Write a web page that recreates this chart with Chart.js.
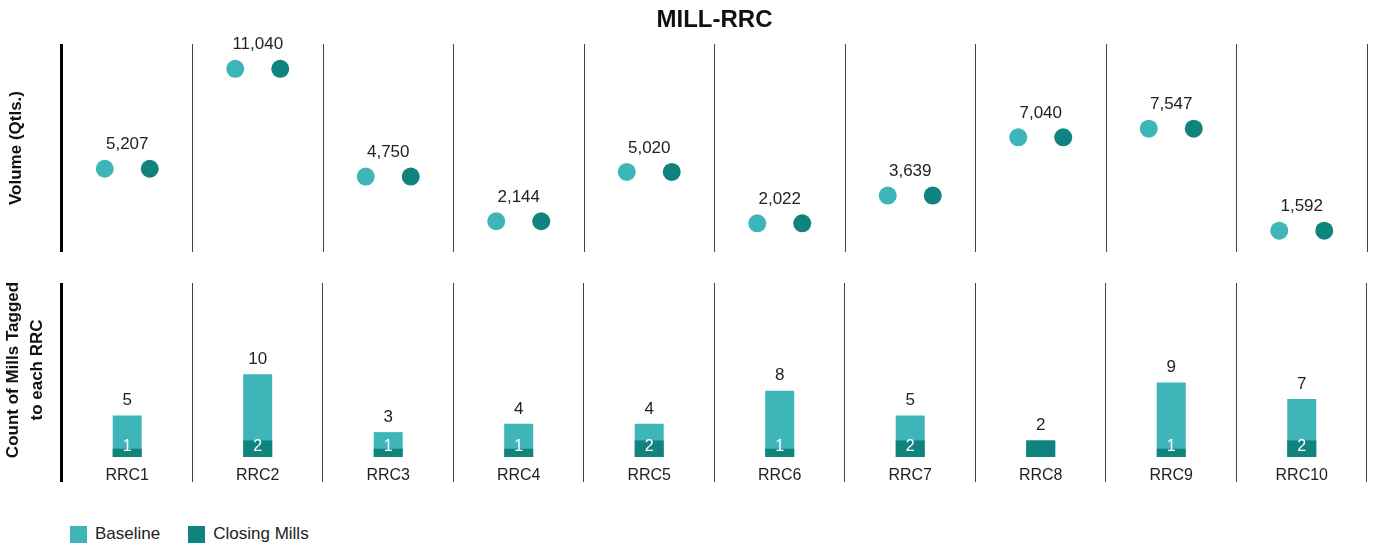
<!DOCTYPE html>
<html lang="en">
<head>
  <meta charset="UTF-8">
  <title>MILL-RRC</title>
  <script src="https://cdn.jsdelivr.net/npm/chart.js"></script>
  <style>
    body { margin: 0; background: #fff; overflow: hidden; font-family: "Liberation Sans", Arial, sans-serif; }
    #wrap { position: relative; width: 1373px; height: 544px; }
    #topBox { position: absolute; left: 0; top: 0; width: 1373px; height: 260px; }
    #bottomBox { position: absolute; left: 0; top: 270px; width: 1373px; height: 230px; }
    #legend { position: absolute; left: 70px; top: 524px; display: flex; align-items: center; font-size: 17px; color: #222; }
    #legend span.box { display: inline-block; width: 17px; height: 17px; margin-right: 8px; }
    #legend span.item { display: flex; align-items: center; margin-right: 28px; }
  </style>
</head>
<body>
  <div id="wrap">
    <div id="topBox"><canvas id="topChart"></canvas></div>
    <div id="bottomBox"><canvas id="bottomChart"></canvas></div>
    <div id="legend">
      <span class="item"><span class="box" style="background:#3db5b9"></span>Baseline</span>
      <span class="item"><span class="box" style="background:#11837f"></span>Closing Mills</span>
    </div>
  </div>

  <script>
    // data
    const categories = ['RRC1', 'RRC2', 'RRC3', 'RRC4', 'RRC5', 'RRC6', 'RRC7', 'RRC8', 'RRC9', 'RRC10'];
    const volumeBaseline = [5207, 11040, 4750, 2144, 5020, 2022, 3639, 7040, 7547, 1592];
    const volumeClosing = [5207, 11040, 4750, 2144, 5020, 2022, 3639, 7040, 7547, 1592];
    const millsBaseline = [5, 10, 3, 4, 4, 8, 5, 2, 9, 7];
    const millsClosing = [1, 2, 1, 1, 2, 1, 2, 2, 1, 2];

    const LIGHT = '#3db5b9';
    const DARK = '#11837f';
    Chart.defaults.font.family = '"Liberation Sans", Arial, sans-serif';
    Chart.defaults.color = '#222';

    const gridWidth = ctx => ctx.index === 0 ? 3 : 1;
    const gridColor = ctx => ctx.index === 0 ? '#000' : '#444';

    // volume labels above each pair of dots
    const volumeLabels = {
      id: 'volumeLabels',
      afterDatasetsDraw(chart) {
        const ctx = chart.ctx;
        const xs = chart.scales.x;
        const pts = chart.getDatasetMeta(0).data;
        ctx.save();
        ctx.font = '17px "Liberation Sans", Arial, sans-serif';
        ctx.fillStyle = '#222';
        ctx.textAlign = 'center';
        ctx.textBaseline = 'middle';
        volumeBaseline.forEach((v, i) => {
          ctx.fillText(v.toLocaleString('en-US'), xs.getPixelForValue(i + 0.5), pts[i].y - 24);
        });
        ctx.restore();
      }
    };

    const dotShift = 0.1724;
    new Chart(document.getElementById('topChart'), {
      type: 'scatter',
      data: {
        datasets: [{
          label: 'Baseline',
          data: volumeBaseline.map((v, i) => ({x: i + 0.5 - dotShift, y: v})),
          backgroundColor: LIGHT,
          borderWidth: 0,
          pointRadius: 9
        }, {
          label: 'Closing Mills',
          data: volumeClosing.map((v, i) => ({x: i + 0.5 + dotShift, y: v})),
          backgroundColor: DARK,
          borderWidth: 0,
          pointRadius: 9
        }]
      },
      options: {
        responsive: true,
        maintainAspectRatio: false,
        animation: false,
        layout: { autoPadding: false, padding: { left: 0, right: 6, top: 0, bottom: 8 } },
        scales: {
          x: {
            type: 'linear', min: 0, max: 10,
            ticks: { stepSize: 1, display: false },
            grid: { color: gridColor, lineWidth: gridWidth, drawTicks: false },
            border: { display: false }
          },
          y: {
            min: 350, max: 12485,
            ticks: { display: false },
            grid: { display: false, drawTicks: false },
            border: { display: false },
            title: {
              display: true, text: 'Volume (Qtls.)',
              font: { size: 17, weight: 'bold' },
              color: '#111',
              padding: { top: 6.3, bottom: 35.3 }
            }
          }
        },
        plugins: {
          legend: { display: false },
          tooltip: { enabled: false },
          title: {
            display: true, text: 'MILL-RRC', fullSize: false,
            font: { size: 24, weight: 'bold' }, color: '#111',
            padding: { top: 5.6, bottom: 9.6 }
          }
        }
      },
      plugins: [volumeLabels]
    });

    // count labels on bars
    const countLabels = {
      id: 'countLabels',
      afterDatasetsDraw(chart) {
        const ctx = chart.ctx;
        const ys = chart.scales.y;
        const closeBars = chart.getDatasetMeta(0).data;
        const baseBars = chart.getDatasetMeta(1).data;
        const zero = ys.getPixelForValue(0);
        ctx.save();
        ctx.textAlign = 'center';
        ctx.textBaseline = 'middle';
        millsBaseline.forEach((v, i) => {
          ctx.font = '17px "Liberation Sans", Arial, sans-serif';
          ctx.fillStyle = '#222';
          ctx.fillText(String(v), baseBars[i].x, baseBars[i].y - 15);
          if (millsClosing[i] < v) {
            ctx.font = '16px "Liberation Sans", Arial, sans-serif';
            ctx.fillStyle = '#fff';
            ctx.fillText(String(millsClosing[i]), closeBars[i].x, zero - 10);
          }
        });
        ctx.restore();
      }
    };

    new Chart(document.getElementById('bottomChart'), {
      type: 'bar',
      data: {
        labels: categories,
        datasets: [{
          label: 'Closing Mills',
          data: millsClosing,
          backgroundColor: DARK,
          barPercentage: 0.222,
          categoryPercentage: 1
        }, {
          label: 'Baseline',
          data: millsBaseline,
          backgroundColor: LIGHT,
          barPercentage: 0.222,
          categoryPercentage: 1
        }]
      },
      options: {
        responsive: true,
        maintainAspectRatio: false,
        animation: false,
        grouped: false,
        layout: { padding: { left: 0, right: 6, top: 13, bottom: 13 } },
        scales: {
          x: {
            ticks: { font: { size: 16 }, color: '#222', padding: -16 },
            grid: { color: gridColor, lineWidth: gridWidth, tickColor: gridColor, tickWidth: gridWidth, drawTicks: true, tickLength: 25, offset: true },
            border: { display: false },
            afterFit(scale) { scale.height = 30; }
          },
          y: {
            min: 0, max: 21,
            ticks: { display: false },
            grid: { display: false, drawTicks: false },
            border: { display: false },
            title: {
              display: true, text: ['Count of Mills Tagged', 'to each RRC'],
              font: { size: 17, weight: 'bold', lineHeight: 1.41 },
              color: '#111',
              padding: { top: 1.5, bottom: 12.5 }
            }
          }
        },
        plugins: {
          legend: { display: false },
          tooltip: { enabled: false }
        }
      },
      plugins: [countLabels]
    });
  </script>
</body>
</html>
